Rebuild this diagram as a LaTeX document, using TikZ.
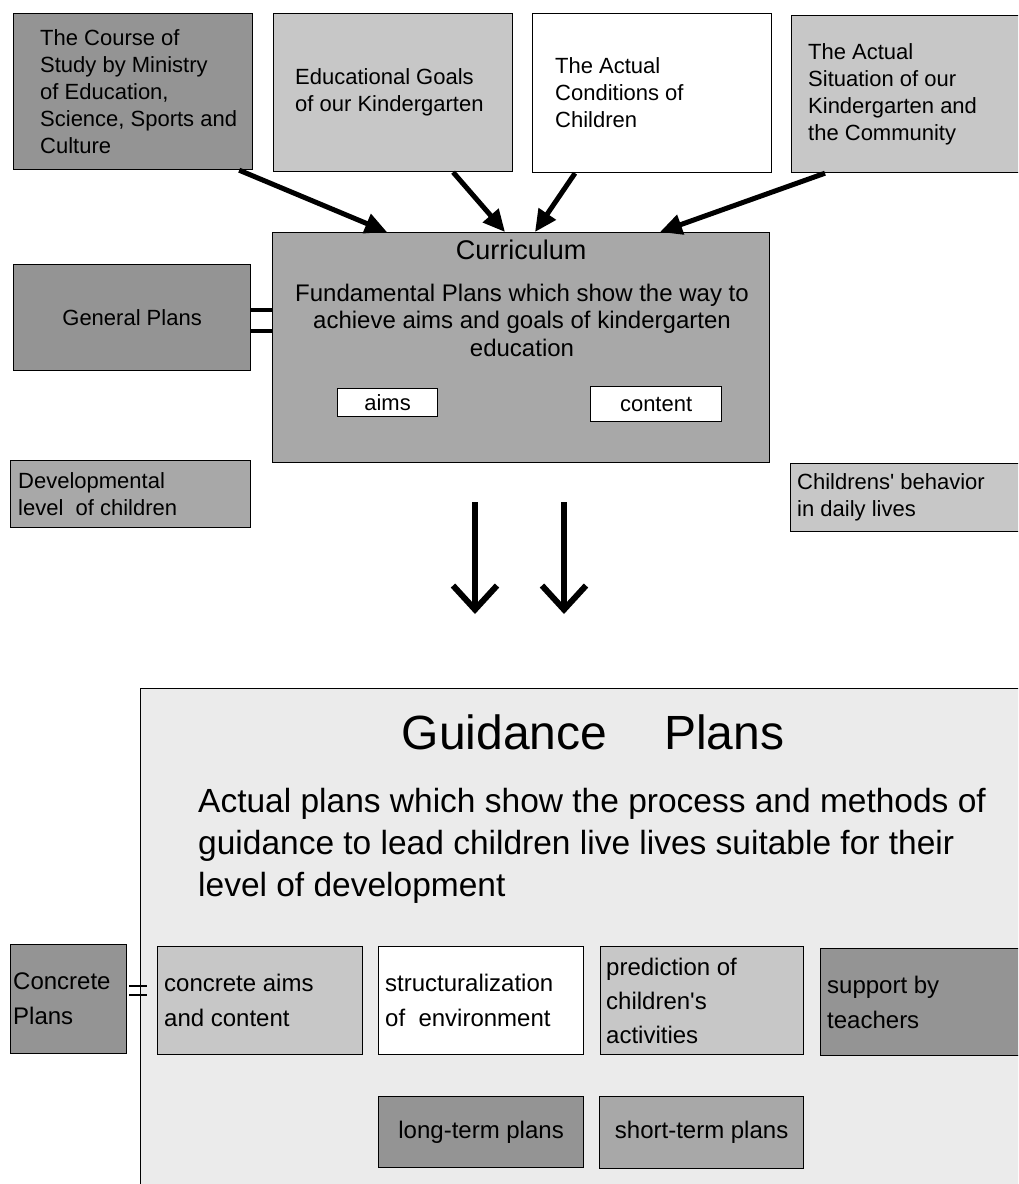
\documentclass[tikz,border=0pt]{standalone}
\usepackage{fontspec}
\setmainfont{Liberation Sans}
\usetikzlibrary{positioning,arrows.meta}
\definecolor{dkgray}{gray}{0.58}
\definecolor{mdgray}{gray}{0.66}
\definecolor{ltgray}{gray}{0.78}
\definecolor{bggray}{gray}{0.92}

\begin{document}
\begin{tikzpicture}[x=1pt,y=-1pt,
    box/.style={draw,line width=1.2pt,anchor=north west,inner sep=0pt},
    txt/.style={inner sep=0pt,align=left,font=\fontsize{22}{27}\selectfont},
    txtb/.style={inner sep=0pt,align=left,font=\fontsize{24}{35}\selectfont},
    big/.style={line width=5pt,-{Triangle[length=22pt,width=20pt]}},
    down/.style={line width=6pt,-{Straight Barb[length=24pt,width=44pt]}}] % curriculum and guidance plans
  \useasboundingbox (0,0) rectangle (1018,1184);
  \clip (0,0) rectangle (1018,1184);

  \node[box,fill=dkgray,minimum width=239,minimum height=156] (course) at (13,13) {};
  \node[txt,right=27pt of course.west] (coursetxt) {The Course of\\Study by Ministry\\of Education,\\Science, Sports and\\Culture};
  \node[box,fill=ltgray,minimum width=239,minimum height=158] (goals) at (273,13) {};
  \node[txt,right=22pt of goals.west] (goalstxt) {Educational Goals\\of our Kindergarten};
  \node[box,fill=white,minimum width=239,minimum height=159] (cond) at (532,13) {};
  \node[txt,right=23pt of cond.west] (condtxt) {The Actual\\Conditions of\\Children};
  \node[box,fill=ltgray,minimum width=240,minimum height=157] (situ) at (791,15) {};
  \node[txt,right=17pt of situ.west] (situtxt) {The Actual\\Situation of our\\Kindergarten and\\the Community};

  \node[box,fill=mdgray,minimum width=497,minimum height=230] (curriculum) at (272,232) {};
  \node[inner sep=0pt,font=\fontsize{27}{30}\selectfont,below=8pt of curriculum.north] (curtitle) {Curriculum};
  \node[txt,align=center,font=\fontsize{24}{27.5}\selectfont] (curbody) at (522,320) {Fundamental Plans which show the way to\\achieve aims and goals of kindergarten\\education};
  \node[box,fill=white,minimum width=100,minimum height=28,font=\fontsize{22}{27}\selectfont] (aims) at (337,388) {aims};
  \node[box,fill=white,minimum width=131,minimum height=35,font=\fontsize{22}{27}\selectfont] (content) at (590,386) {content};

  \draw[big] ([xshift=-14pt]course.south east) -- ([xshift=115pt]curriculum.north west);
  \draw[big] ([xshift=60pt]goals.south) -- ([xshift=233pt]curriculum.north west);
  \draw[big] ([xshift=43pt]cond.south west) -- ([xshift=263pt]curriculum.north west);
  \draw[big] ([xshift=34pt]situ.south west) -- ([xshift=388pt]curriculum.north west);

  \node[box,fill=dkgray,minimum width=237,minimum height=106,font=\fontsize{22}{27}\selectfont] (general) at (13,264) {General Plans};
  \draw[line width=4pt] (general.east |- 0,310) -- (curriculum.west |- 0,310);
  \draw[line width=4pt] (general.east |- 0,331) -- (curriculum.west |- 0,331);

  \node[box,fill=mdgray,minimum width=240,minimum height=67] (devel) at (10,460) {};
  \node[txt,right=8pt of devel.west] (develtxt) {Developmental\\level\ \ of children};
  \node[box,fill=ltgray,minimum width=240,minimum height=68] (behav) at (790,463) {};
  \node[txt,right=7pt of behav.west] (behavtxt) {Childrens\textquotesingle\ behavior\\in daily lives};

  \coordinate (ltop) at (475,502);
  \coordinate (lbot) at (475,614);
  \coordinate (rtop) at (564,502);
  \coordinate (rbot) at (564,614);
  \draw[down] (ltop) -- (lbot);
  \draw[down] (rtop) -- (rbot);

  % guidance plans
  \node[box,fill=bggray,minimum width=900,minimum height=520] (guidance) at (140,688) {};
  \node[inner sep=0pt,font=\fontsize{48}{52}\selectfont] (gtitle) at (593,732) {Guidance\hspace{57pt}Plans};
  \node[txt,anchor=west,font=\fontsize{33.5}{42}\selectfont] (gtext) at (198,846) {Actual plans which show the process and methods of\\guidance to lead children live lives suitable for their\\level of development};

  \node[box,fill=dkgray,minimum width=116,minimum height=109] (concrete) at (10,944) {};
  \node[txtb,right=3pt of concrete.west] (concretetxt) {Concrete\\Plans};
  \node[box,fill=ltgray,minimum width=205,minimum height=108] (caims) at (157,946) {};
  \node[txtb,right=7pt of caims.west] (caimstxt) {concrete aims\\and content};
  \node[box,fill=white,minimum width=205,minimum height=108] (struct) at (378,946) {};
  \node[txtb,right=7pt of struct.west] (structtxt) {structuralization\\of\ \ environment};
  \node[box,fill=ltgray,minimum width=203,minimum height=108] (predict) at (600,946) {};
  \node[txtb,right=6pt of predict.west,font=\fontsize{24}{34}\selectfont] (predicttxt) {prediction of\\children\textquotesingle s\\activities};
  \node[box,fill=dkgray,minimum width=210,minimum height=107] (support) at (820,948) {};
  \node[txtb,right=7pt of support.west] (supporttxt) {support by\\teachers};

  \draw[line width=2.5pt,shorten <=2pt,shorten >=10pt] (concrete.east |- 0,986) -- (caims.west |- 0,986);
  \draw[line width=2.5pt,shorten <=2pt,shorten >=10pt] (concrete.east |- 0,995) -- (caims.west |- 0,995);

  \node[box,fill=dkgray,minimum width=205,minimum height=71,font=\fontsize{24}{35}\selectfont] (longterm) at (378,1096) {long-term plans};
  \node[box,fill=mdgray,minimum width=204,minimum height=72,font=\fontsize{24}{35}\selectfont] (shortterm) at (599,1096) {short-term plans};
\end{tikzpicture}
\end{document}
